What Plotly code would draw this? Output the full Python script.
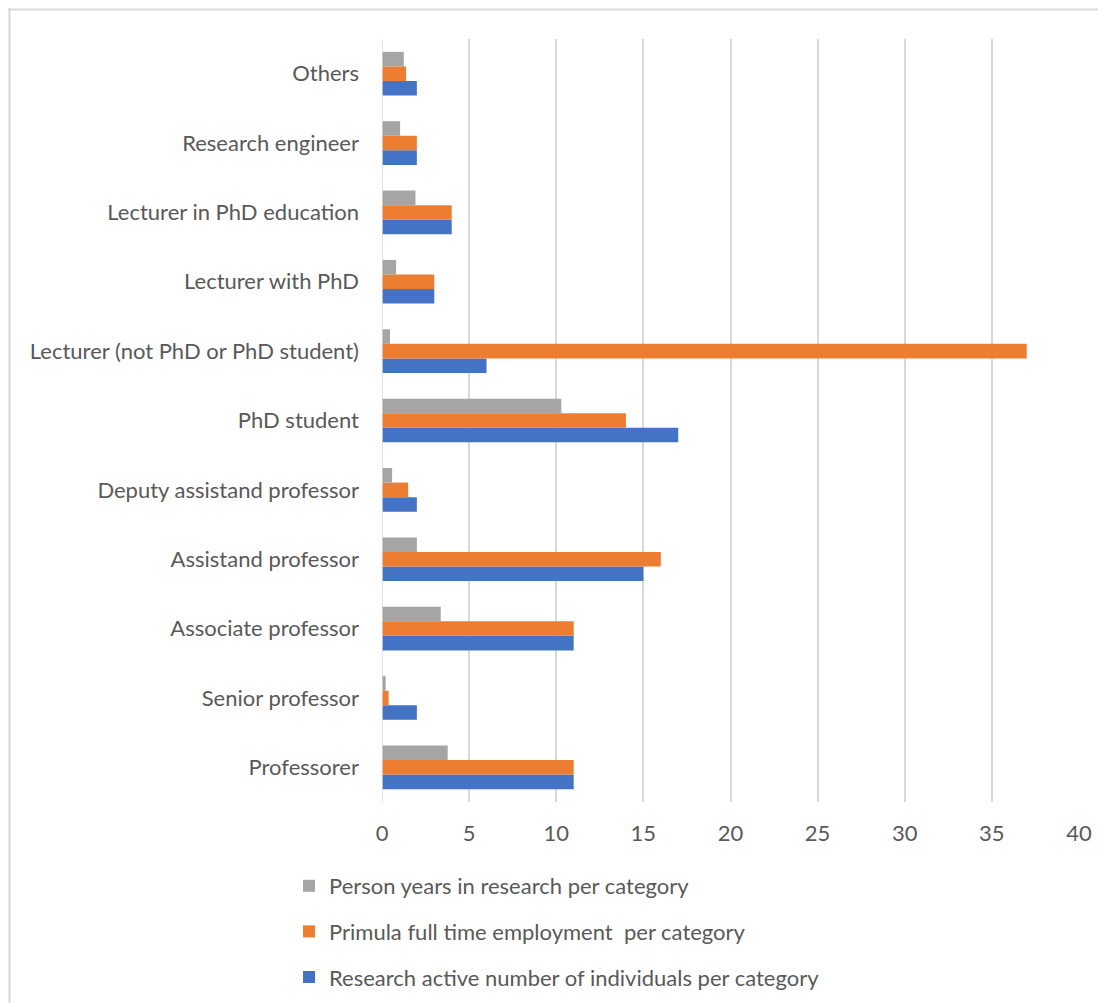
import plotly.graph_objects as go

categories = ["Professorer", "Senior professor", "Associate professor", "Assistand professor",
              "Deputy assistand professor", "PhD student", "Lecturer (not PhD or PhD student)",
              "Lecturer with PhD", "Lecturer in PhD education", "Research engineer", "Others"]

research_active = [11, 2, 11, 15, 2, 17, 6, 3, 4, 2, 2]
primula_fte = [11, 0.38, 11, 16, 1.5, 14, 37, 3, 4, 2, 1.38]
person_years = [3.77, 0.21, 3.37, 2.0, 0.58, 10.29, 0.46, 0.81, 1.92, 1.04, 1.25]

series_names = ["Research active number of individuals per category",
                "Primula full time employment  per category",
                "Person years in research per category"]
colors = ["#4472C4", "#ED7D31", "#A5A5A5"]
legend_ranks = [3, 2, 1]

x_ticks = [0, 5, 10, 15, 20, 25, 30, 35, 40]

W, H = 1098, 995
L, R, T, B = 374, 27, 31, 201
PW, PH = W - L - R, H - T - B

fig = go.Figure()
for name, vals, col, rk in zip(series_names, [research_active, primula_fte, person_years],
                               colors, legend_ranks):
    fig.add_trace(go.Bar(
        y=categories, x=vals, name=name, orientation="h",
        marker=dict(color=col, line=dict(width=0)),
        legendgroup=name, legendrank=rk,
    ))

fig.update_layout(
    width=W, height=H,
    margin=dict(l=L, r=R, t=T, b=B, autoexpand=False),
    paper_bgcolor="white", plot_bgcolor="white",
    barmode="group", bargap=0.37, bargroupgap=0,
    font=dict(family="Lato, Liberation Sans, sans-serif", size=22, color="#595959"),
    xaxis=dict(range=[0, 40], tickvals=x_ticks, showgrid=True, gridcolor="#D9D9D9",
               gridwidth=1.5, zeroline=False, showline=False, ticks="",
               ticklabelstandoff=16,
               tickfont=dict(size=22, color="#595959"), fixedrange=True),
    yaxis=dict(showgrid=False, zeroline=False, showline=False, ticks="",
               ticklabelstandoff=22, tickfont=dict(size=22, color="#595959"),
               categoryorder="array", categoryarray=categories),
    legend=dict(orientation="v", x=(281 - L) / PW, y=1 - 857 / H,
                xanchor="left", yanchor="top", yref="container",
                traceorder="grouped", tracegroupgap=14,
                font=dict(size=22, color="#595959"), itemwidth=30),
    showlegend=True,
)

# vertical axis baseline at 0
fig.add_shape(type="line", xref="x", yref="paper", x0=0, x1=0, y0=0, y1=1,
              line=dict(color="#D9D9D9", width=1.5))

# chart frame (top and left edges visible)
fig.add_shape(type="line", xref="paper", yref="paper",
              x0=-L / PW, x1=(W - L) / PW, y0=(H - B - 1.5) / PH, y1=(H - B - 1.5) / PH,
              line=dict(color="#D9D9D9", width=2))
fig.add_shape(type="line", xref="paper", yref="paper",
              x0=(1.5 - L) / PW, x1=(1.5 - L) / PW, y0=-B / PH, y1=(H - B) / PH,
              line=dict(color="#D9D9D9", width=2))

fig.write_html("out.html")
